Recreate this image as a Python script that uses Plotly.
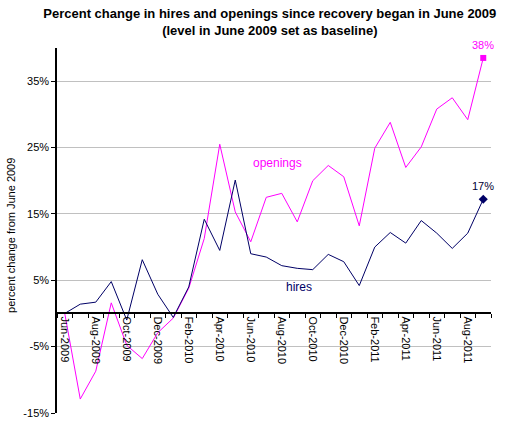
import plotly.graph_objects as go

# monthly series, percent change vs June 2009
months = ["Jun-2009", "Jul-2009", "Aug-2009", "Sep-2009", "Oct-2009", "Nov-2009",
          "Dec-2009", "Jan-2010", "Feb-2010", "Mar-2010", "Apr-2010", "May-2010",
          "Jun-2010", "Jul-2010", "Aug-2010", "Sep-2010", "Oct-2010", "Nov-2010",
          "Dec-2010", "Jan-2011", "Feb-2011", "Mar-2011", "Apr-2011", "May-2011",
          "Jun-2011", "Jul-2011", "Aug-2011", "Sep-2011"]
hires = [0, 1.4, 1.7, 4.8, -1.0, 8.1, 2.9, -0.6, 4.0, 14.2, 9.5, 20.1, 9.0, 8.5,
         7.2, 6.8, 6.6, 8.9, 7.8, 4.2, 10.0, 12.2, 10.6, 14.0, 12.1, 9.8, 12.1, 17.2]
openings = [0, -12.9, -8.7, 1.6, -4.8, -6.8, -2.9, -0.7, 3.8, 11.3, 25.5, 15.3,
            10.8, 17.5, 18.1, 13.8, 20.0, 22.3, 20.6, 13.2, 24.9, 28.8, 22.0, 25.1,
            30.8, 32.5, 29.2, 38.5]
ytick_vals = [-15, -5, 5, 15, 25, 35]

x = list(range(len(months)))
hire_col = '#000066'
open_col = '#FF00FF'

fig = go.Figure()
fig.add_trace(go.Scatter(x=x, y=openings, mode='lines', line=dict(color=open_col, width=1)))
fig.add_trace(go.Scatter(x=x, y=hires, mode='lines', line=dict(color=hire_col, width=1)))
# end point markers
fig.add_trace(go.Scatter(x=[x[-1]], y=[openings[-1]], mode='markers',
                         marker=dict(symbol='square', size=6, color=open_col)))
fig.add_trace(go.Scatter(x=[x[-1]], y=[hires[-1]], mode='markers',
                         marker=dict(symbol='diamond', size=7, color=hire_col)))

fig.add_annotation(x=x[-1], y=openings[-1], text="%d%%" % round(openings[-1]), showarrow=False,
                   yshift=13, font=dict(color=open_col, size=11))
fig.add_annotation(x=x[-1], y=hires[-1], text="%d%%" % round(hires[-1]), showarrow=False,
                   yshift=13, font=dict(color='#000033', size=11))
fig.add_annotation(x=13.75, y=22.6, text="openings", showarrow=False,
                   font=dict(color=open_col, size=12))
fig.add_annotation(x=15.1, y=4.0, text="hires", showarrow=False,
                   font=dict(color=hire_col, size=12))
# y axis title, placed by hand
fig.add_annotation(xref='paper', yref='paper', x=-46 / 434, y=0.485, xanchor='center',
                   text="percent change from June 2009", textangle=-90, showarrow=False,
                   font=dict(size=11))

fig.update_layout(
    width=512, height=433,
    margin=dict(l=57, r=21, t=48, b=20, autoexpand=False),
    paper_bgcolor='white', plot_bgcolor='white',
    showlegend=False,
    font=dict(family='Arial, Liberation Sans, sans-serif', color='black', size=11),
    title=dict(text="<b>Percent change in hires and openings since recovery began in June 2009<br>"
                    "(level in June 2009 set as baseline)</b>",
               x=0.527, xanchor='center', y=0.958, yanchor='top',
               font=dict(size=13, color='black')),
)
fig.update_xaxes(
    range=[-0.5, len(months) - 0.5],
    tickmode='array', tickvals=x[::2], ticktext=months[::2], tickangle=90,
    ticks='', showgrid=False, zeroline=False, automargin=False,
    showline=True, linecolor='black', linewidth=1.5,
    anchor='free', position=15 / 55,
    minor=dict(tickmode='linear', tick0=-0.5, dtick=1, ticks='outside',
               ticklen=4, tickcolor='black', showgrid=False),
    tickfont=dict(size=11),
)
fig.update_yaxes(
    range=[-15, 40],
    tickmode='array', tickvals=ytick_vals, ticktext=["%d%%" % v for v in ytick_vals],
    showgrid=True, gridcolor='#C0C0C0', gridwidth=1, zeroline=False, automargin=False,
    showline=True, linecolor='black', linewidth=1.5,
    ticks='outside', ticklen=4, tickcolor='black',
    tickfont=dict(size=11),
)

# drop the default page margin so the figure sits at the window corner
fig.write_html("out.html", config={'displayModeBar': False},
               post_script="document.body.style.margin='0';")
